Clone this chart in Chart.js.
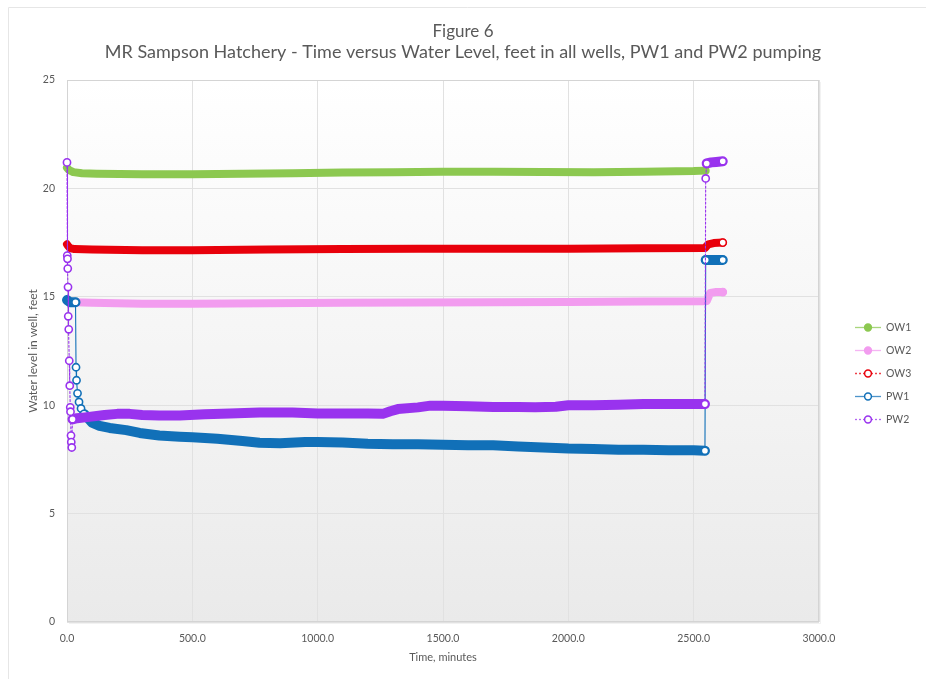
<!DOCTYPE html>
<html>
<head>
<meta charset="utf-8">
<script src="https://cdn.jsdelivr.net/npm/chart.js@4.4.1/dist/chart.umd.min.js"></script>
<style>
  html, body { margin: 0; padding: 0; background: #ffffff; }
  #wrap { width: 926px; height: 679px; }
  canvas { display: block; }
</style>
</head>
<body>
<div id="wrap"><canvas id="c" width="926" height="679"></canvas></div>
<script>
// ---------- data ----------
const xTickValues = [0, 500, 1000, 1500, 2000, 2500, 3000];
const yTickValues = [0, 5, 10, 15, 20, 25];
const seriesNames = ['OW1', 'OW2', 'OW3', 'PW1', 'PW2'];

const ow1Time  = [0, 8, 25, 60, 120, 300, 500, 700, 900, 1100, 1300, 1500, 1700, 1900, 2100, 2300, 2500, 2548];
const ow1Level = [20.95, 20.85, 20.75, 20.7, 20.68, 20.65, 20.65, 20.68, 20.7, 20.73, 20.75, 20.77, 20.77, 20.76, 20.75, 20.77, 20.8, 20.82];

const ow2Time  = [0, 30, 100, 300, 500, 800, 1100, 1400, 1700, 2000, 2300, 2552, 2566, 2590, 2616];
const ow2Level = [14.8, 14.75, 14.72, 14.68, 14.68, 14.7, 14.72, 14.74, 14.75, 14.76, 14.78, 14.8, 15.18, 15.22, 15.22];

const ow3Time  = [0, 4, 12, 30, 100, 300, 500, 800, 1100, 1400, 1700, 2000, 2300, 2545, 2558, 2580, 2616];
const ow3Level = [17.42, 17.35, 17.25, 17.2, 17.18, 17.15, 17.15, 17.18, 17.2, 17.22, 17.22, 17.22, 17.24, 17.25, 17.42, 17.48, 17.5];

const pw1Time  = [0, 12, 24, 34, 36, 38, 42, 48, 56, 68, 84, 100, 130, 170, 236, 290, 368, 450, 500, 600, 700, 768, 850, 950, 1000, 1100, 1200, 1300, 1400, 1500, 1600, 1700, 1800, 1900, 2000, 2100, 2200, 2300, 2400, 2500, 2545, 2548, 2570, 2590, 2616];
const pw1Level = [14.85, 14.75, 14.75, 14.75, 11.75, 11.15, 10.55, 10.15, 9.85, 9.6, 9.4, 9.2, 9.05, 8.95, 8.85, 8.72, 8.6, 8.55, 8.52, 8.45, 8.35, 8.27, 8.25, 8.3, 8.3, 8.28, 8.22, 8.2, 8.2, 8.18, 8.15, 8.15, 8.1, 8.05, 8.0, 7.98, 7.95, 7.95, 7.92, 7.92, 7.9, 16.7, 16.7, 16.7, 16.7];

const pw2Time  = [0, 1, 2, 3, 4, 5, 7, 9, 11, 13, 14, 16, 17, 19, 22, 40, 80, 150, 200, 250, 300, 368, 450, 550, 650, 768, 900, 1000, 1100, 1200, 1260, 1290, 1320, 1400, 1450, 1500, 1600, 1700, 1800, 1868, 1950, 2000, 2100, 2200, 2300, 2400, 2500, 2545, 2548, 2552, 2570, 2590, 2616];
const pw2Level = [21.2, 16.9, 16.75, 16.3, 15.45, 14.1, 13.5, 12.05, 10.9, 9.9, 9.7, 8.6, 8.3, 8.05, 9.35, 9.4, 9.45, 9.55, 9.6, 9.6, 9.55, 9.52, 9.52, 9.58, 9.62, 9.66, 9.66, 9.62, 9.62, 9.62, 9.6, 9.72, 9.82, 9.9, 9.98, 9.98, 9.95, 9.92, 9.92, 9.9, 9.93, 10.0, 10.0, 10.02, 10.05, 10.05, 10.05, 10.05, 20.46, 21.15, 21.2, 21.22, 21.25];

// ---------- styling ----------
const FONT = 'Lato';
const GREY = '#595959';
const PLOT = { left: 67, right: 819, top: 80, bottom: 622 };
const W = 926, H = 679;

function isJump(dx, dy, minDy) { return dy > 1.5 * dx && dy > minDy; }

function makeSeries(label, times, levels, st) {
  const pts = times.map((t, i) => ({ x: t, y: levels[i] }));
  const jumpAt = (chart, a, b) => {
    const sx = chart.scales.x, sy = chart.scales.y;
    const dx = Math.abs(sx.getPixelForValue(b.x) - sx.getPixelForValue(a.x));
    const dy = Math.abs(sy.getPixelForValue(b.y) - sy.getPixelForValue(a.y));
    return isJump(dx, dy, st.minJump);
  };
  return {
    label: label,
    data: pts,
    order: st.order,
    yAxisID: 'y',
    borderColor: st.color,
    backgroundColor: st.color,
    borderWidth: st.band,
    borderCapStyle: 'round',
    borderJoinStyle: 'round',
    tension: 0,
    clip: 12,
    legendDash: st.dash,
    legendFill: st.fill,
    segment: {
      borderWidth: c => isJump(Math.abs(c.p1.x - c.p0.x), Math.abs(c.p1.y - c.p0.y), st.minJump) ? st.thin : st.band,
      borderDash: c => isJump(Math.abs(c.p1.x - c.p0.x), Math.abs(c.p1.y - c.p0.y), st.minJump) ? st.dash : []
    },
    pointRadius: c => {
      if (c.dataIndex === undefined) return 0;
      const d = c.dataset.data, i = c.dataIndex;
      const last = i === d.length - 1 && st.endMarker;
      const nearJump = (i > 0 && jumpAt(c.chart, d[i - 1], d[i])) || (i < d.length - 1 && jumpAt(c.chart, d[i], d[i + 1]));
      return (last || nearJump) ? 3.6 : 0;
    },
    pointBorderWidth: 1.6,
    pointBorderColor: st.color,
    pointBackgroundColor: st.fill ? st.color : '#ffffff',
    pointHoverRadius: 0,
    pointHitRadius: 0
  };
}

const datasets = [
  makeSeries(seriesNames[0], ow1Time, ow1Level, { color: '#8cc850', band: 8, thin: 1.2, dash: [], fill: true,  minJump: 2,  endMarker: false, order: 4 }),
  makeSeries(seriesNames[1], ow2Time, ow2Level, { color: '#f29cef', band: 8, thin: 1.2, dash: [], fill: true,  minJump: 12, endMarker: true,  order: 3 }),
  makeSeries(seriesNames[2], ow3Time, ow3Level, { color: '#e8000b', band: 8, thin: 1.2, dash: [2, 2], fill: false, minJump: 12, endMarker: true, order: 2 }),
  makeSeries(seriesNames[3], pw1Time, pw1Level, { color: '#1170b8', band: 10, thin: 1.1, dash: [], fill: false, minJump: 2,  endMarker: true,  order: 1 }),
  makeSeries(seriesNames[4], pw2Time, pw2Level, { color: '#9933ee', band: 10, thin: 1.1, dash: [2, 2], fill: false, minJump: 2, endMarker: true, order: 0 })
];

// ---------- plugins ----------
const backdrop = {
  id: 'backdrop',
  beforeDraw(chart) {
    const ctx = chart.ctx, a = chart.chartArea;
    ctx.save();
    ctx.fillStyle = '#ffffff';
    ctx.fillRect(0, 0, W, H);
    ctx.strokeStyle = '#e6e6e6';
    ctx.lineWidth = 1;
    ctx.beginPath();
    ctx.moveTo(8.5, H); ctx.lineTo(8.5, 7.5); ctx.lineTo(W, 7.5);
    ctx.stroke();
    const g = ctx.createLinearGradient(0, a.top, 0, a.bottom);
    g.addColorStop(0, '#ffffff');
    g.addColorStop(0.45, '#f6f6f6');
    g.addColorStop(1, '#eaeaea');
    ctx.fillStyle = g;
    ctx.fillRect(a.left, a.top, a.right - a.left, a.bottom - a.top);
    ctx.restore();
  },
  beforeDatasetsDraw(chart) {
    const ctx = chart.ctx, a = chart.chartArea;
    ctx.save();
    ctx.strokeStyle = '#d4d4d4';
    ctx.lineWidth = 1;
    ctx.strokeRect(a.left + 0.5, a.top + 0.5, a.right - a.left - 1, a.bottom - a.top - 1);
    ctx.strokeStyle = 'rgba(0,0,0,0.05)';
    ctx.beginPath();
    ctx.moveTo(a.right + 1.5, a.top + 2); ctx.lineTo(a.right + 1.5, a.bottom + 1.5); ctx.lineTo(a.left + 2, a.bottom + 1.5);
    ctx.stroke();
    ctx.restore();
  }
};

const sideLegend = {
  id: 'sideLegend',
  afterDraw(chart) {
    const ctx = chart.ctx;
    const top = 327, gap = 23, x0 = 855, x1 = 881, tx = 886;
    ctx.save();
    chart.data.datasets.forEach((d, i) => {
      const y = top + i * gap;
      ctx.strokeStyle = d.borderColor;
      ctx.globalAlpha = 0.75;
      ctx.lineWidth = 1.3;
      ctx.setLineDash(d.legendDash || []);
      ctx.beginPath(); ctx.moveTo(x0, y + 0.5); ctx.lineTo(x1, y + 0.5); ctx.stroke();
      ctx.setLineDash([]);
      ctx.globalAlpha = 1;
      ctx.beginPath();
      ctx.arc((x0 + x1) / 2, y + 0.5, 3.4, 0, Math.PI * 2);
      ctx.fillStyle = d.legendFill ? d.borderColor : '#ffffff';
      ctx.fill();
      ctx.lineWidth = 1.5;
      ctx.strokeStyle = d.borderColor;
      ctx.stroke();
      ctx.fillStyle = GREY;
      ctx.font = '10.5px ' + FONT;
      ctx.textBaseline = 'middle';
      ctx.textAlign = 'left';
      ctx.fillText(d.label, tx, y + 0.5);
    });
    ctx.restore();
  }
};

new Chart(document.getElementById('c'), {
  type: 'line',
  data: { datasets: datasets },
  options: {
    responsive: false,
    devicePixelRatio: 1,
    animation: false,
    events: [],
    layout: { padding: 0 },
    plugins: {
      legend: { display: false },
      tooltip: { enabled: false },
      title: {
        display: true,
        text: 'Figure 6',
        color: GREY,
        font: { family: FONT, size: 17, weight: 'normal' },
        padding: { top: 21, bottom: 0 }
      },
      subtitle: {
        display: true,
        text: 'MR Sampson Hatchery - Time versus Water Level, feet in all wells, PW1 and PW2 pumping',
        color: GREY,
        font: { family: FONT, size: 18, weight: 'normal' },
        padding: { top: 0, bottom: 17 }
      }
    },
    scales: {
      x: {
        type: 'linear',
        min: xTickValues[0],
        max: xTickValues[xTickValues.length - 1],
        afterBuildTicks: s => { s.ticks = xTickValues.map(v => ({ value: v })); },
        afterFit: s => { s.height = H - PLOT.bottom; },
        border: { display: false },
        grid: { color: '#e1e1e1', drawTicks: false, lineWidth: 1 },
        ticks: {
          color: GREY, padding: 10,
          font: { family: FONT, size: 10.5 },
          callback: v => Number(v).toFixed(1),
          maxRotation: 0
        },
        title: {
          display: true, text: 'Time, minutes', color: GREY,
          font: { family: FONT, size: 11 },
          padding: { top: 4, bottom: 15 }
        }
      },
      y: {
        type: 'linear',
        position: 'left',
        min: yTickValues[0],
        max: yTickValues[yTickValues.length - 1],
        afterBuildTicks: s => { s.ticks = yTickValues.map(v => ({ value: v })); },
        afterFit: s => { s.width = PLOT.left; },
        border: { display: false },
        grid: { color: '#e1e1e1', drawTicks: false, lineWidth: 1 },
        ticks: {
          color: GREY, padding: 12,
          font: { family: FONT, size: 10.5 }
        },
        title: {
          display: true, text: 'Water level in well, feet', color: GREY,
          font: { family: FONT, size: 12 },
          padding: { top: 26, bottom: 0 }
        }
      },
      yLegendSpace: {
        type: 'linear',
        position: 'right',
        display: true,
        min: 0, max: 1,
        afterFit: s => { s.width = W - PLOT.right; },
        border: { display: false },
        grid: { display: false, drawTicks: false },
        ticks: { display: false },
        title: { display: false }
      }
    }
  },
  plugins: [backdrop, sideLegend]
});
</script>
</body>
</html>
